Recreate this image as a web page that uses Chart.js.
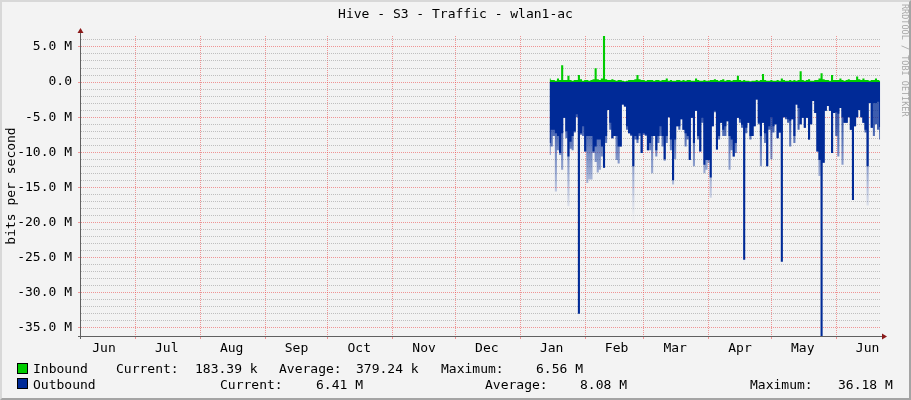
<!DOCTYPE html>
<html>
<head>
<meta charset="utf-8">
<title>Hive - S3 - Traffic - wlan1-ac</title>
<script src="https://cdn.jsdelivr.net/npm/chart.js"></script>
<style>
  html, body { margin: 0; padding: 0; background: #f3f3f3; }
  #wrap { position: relative; width: 911px; height: 400px; background: #f3f3f3; overflow: hidden;
          font-family: 'DejaVu Sans Mono', monospace; font-size: 13px; color: #000; }
  #chart { position: absolute; left: 0; top: 0; }
  .txt { position: absolute; white-space: pre; line-height: 13px; }
  .sw { position: absolute; width: 9px; height: 9px; border: 1px solid #000; }
  #frame { position: absolute; inset: 0; border-style: solid; border-width: 2px;
           border-color: #d8d8d8 #a4a4a4 #a4a4a4 #d8d8d8; pointer-events: none; }
  #credit { position: absolute; left: 909px; top: 4px; transform-origin: 0 0; transform: rotate(90deg);
            font-size: 8.5px; line-height: 9px; color: #a8a8a8; white-space: pre; }
</style>
</head>
<body>
<div id="wrap">
  <canvas id="chart" width="911" height="400"></canvas>
  <div class="txt" style="left:0;width:911px;text-align:center;top:7px">Hive - S3 - Traffic - wlan1-ac</div>
  <div id="credit">RRDTOOL / TOBI OETIKER</div>

  <div class="sw" style="left:17px;top:363px;background:#00cc00"></div>
  <div class="txt" style="left:33px;top:362px">Inbound</div>
  <div class="txt" style="left:116px;top:362px">Current:</div>
  <div class="txt" style="left:195px;top:362px">183.39 k</div>
  <div class="txt" style="left:279px;top:362px">Average:</div>
  <div class="txt" style="left:356px;top:362px">379.24 k</div>
  <div class="txt" style="left:441px;top:362px">Maximum:</div>
  <div class="txt" style="left:536px;top:362px">6.56 M</div>

  <div class="sw" style="left:17px;top:378px;background:#002a97"></div>
  <div class="txt" style="left:33px;top:378px">Outbound</div>
  <div class="txt" style="left:220px;top:378px">Current:</div>
  <div class="txt" style="left:316px;top:378px">6.41 M</div>
  <div class="txt" style="left:485px;top:378px">Average:</div>
  <div class="txt" style="left:580px;top:378px">8.08 M</div>
  <div class="txt" style="left:750px;top:378px">Maximum:</div>
  <div class="txt" style="left:838px;top:378px">36.18 M</div>
  <div id="frame"></div>
</div>
<script>
// x axis: days counted from Jul 1
const monthStarts = [0, 31, 62, 92, 123, 153, 184, 215, 243, 274, 304, 335];
const monthMids = [-15, 15, 46, 77, 107, 138, 168, 199, 230, 258, 289, 319, 350];
const monthNames = ['Jun', 'Jul', 'Aug', 'Sep', 'Oct', 'Nov', 'Dec', 'Jan', 'Feb', 'Mar', 'Apr', 'May', 'Jun'];
const firstDay = 198; // Jan 14, first day with data

// y axis, M bit/s: labelled lines and the minor 1 M grid
const yLabelled = [5, 0, -5, -10, -15, -20, -25, -30, -35];
const yMinor = Array.from({ length: 42 }, (_, i) => 6 - i);

// Inbound, M bit/s, one value per day
const inbound = [
  0.5, 0.3, 0.3, 0.2, 0.5, 0.3, 2.4, 0.3, 0.3, 0.9,
  0.3, 0.2, 0.3, 0.3, 1.0, 0.4, 0.2, 0.3, 0.3, 0.2,
  0.3, 0.4, 1.95, 0.4, 0.3, 0.5, 6.56, 0.4, 0.3, 0.3,
  0.4, 0.3, 0.2, 0.3, 0.3, 0.2, 0.1, 0.2, 0.3, 0.3,
  0.3, 0.4, 1.0, 0.4, 0.3, 0.3, 0.2, 0.3, 0.3, 0.3,
  0.2, 0.3, 0.3, 0.2, 0.3, 0.3, 0.5, 0.2, 0.3, 0.2,
  0.2, 0.3, 0.3, 0.2, 0.3, 0.2, 0.3, 0.3, 0.2, 0.2,
  0.5, 0.3, 0.2, 0.2, 0.3, 0.2, 0.2, 0.3, 0.3, 0.4,
  0.3, 0.2, 0.3, 0.4, 0.2, 0.3, 0.3, 0.2, 0.3, 0.3,
  0.9, 0.3, 0.2, 0.3, 0.2, 0.2, 0.1, 0.2, 0.2, 0.3,
  0.2, 0.3, 1.15, 0.3, 0.2, 0.2, 0.3, 0.2, 0.2, 0.3,
  0.2, 0.5, 0.3, 0.2, 0.2, 0.3, 0.2, 0.3, 0.2, 0.3,
  1.55, 0.3, 0.2, 0.3, 0.4, 0.2, 0.2, 0.3, 0.3, 0.5,
  1.25, 0.4, 0.3, 0.3, 0.2, 1.0, 0.3, 0.3, 0.3, 0.5,
  0.3, 0.2, 0.3, 0.4, 0.3, 0.3, 0.3, 0.8, 0.4, 0.3,
  0.5, 0.3, 0.3, 0.2, 0.3, 0.3, 0.5, 0.3, 0.2
];

// Outbound daily level, M bit/s (drawn below zero)
const outbound = [
  8.7, 6.8, 6.8, 7.3, 7.7, 10.1, 7.3, 5.1, 7.0, 10.6,
  8.5, 7.7, 7.0, 4.6, 33.0, 7.3, 6.3, 9.9, 7.7, 7.7,
  7.7, 9.9, 9.2, 8.2, 8.2, 9.2, 12.2, 7.7, 4.0, 5.8,
  8.0, 7.7, 7.7, 9.2, 9.2, 3.2, 3.5, 6.3, 7.3, 7.5,
  12.0, 7.7, 8.2, 7.3, 10.1, 7.3, 7.5, 9.7, 8.7, 7.7,
  7.7, 9.7, 7.7, 6.3, 7.7, 11.0, 7.7, 5.0, 8.2, 14.0,
  8.2, 6.3, 6.3, 5.3, 6.8, 7.3, 7.7, 11.1, 5.1, 8.7,
  4.1, 7.7, 9.9, 5.1, 11.8, 11.1, 11.1, 13.6, 6.3, 4.1,
  9.6, 7.7, 5.8, 6.8, 6.3, 5.6, 7.7, 8.2, 10.6, 8.7,
  5.1, 5.3, 6.1, 25.3, 6.5, 5.8, 7.7, 7.7, 6.3, 2.5,
  5.8, 7.7, 5.8, 7.3, 12.0, 6.3, 5.0, 6.3, 6.0, 8.0,
  7.2, 25.6, 5.0, 5.0, 5.3, 5.5, 5.3, 7.7, 3.2, 3.7,
  6.0, 5.1, 6.5, 5.1, 8.2, 6.0, 2.7, 4.4, 9.9, 11.1,
  36.18, 11.5, 4.1, 3.4, 4.1, 10.1, 4.4, 4.3, 4.5, 3.7,
  5.0, 5.8, 5.8, 5.0, 6.8, 16.8, 6.3, 5.0, 4.0, 5.0,
  5.8, 6.8, 12.0, 3.0, 6.5, 3.0, 3.0, 2.8, 6.4
];

// Outbound short peaks, M bit/s (faded tails)
const outboundPeak = [
  10.4, 9.2, 7.7, 15.6, 9.7, 10.4, 12.5, 5.1, 8.0, 17.7,
  9.5, 9.7, 7.2, 5.0, 33.8, 7.5, 7.7, 9.9, 14.4, 13.9,
  13.9, 10.1, 11.4, 12.9, 12.5, 10.6, 12.2, 8.7, 4.0, 6.8,
  8.0, 7.7, 11.1, 11.6, 9.2, 3.2, 3.5, 6.8, 7.3, 7.7,
  20.1, 8.2, 8.7, 7.7, 10.1, 7.5, 7.7, 9.7, 9.7, 13.0,
  7.7, 10.6, 8.7, 7.7, 9.2, 11.2, 8.7, 5.0, 9.7, 14.6,
  11.0, 6.3, 6.8, 5.3, 6.8, 9.2, 8.2, 11.1, 5.1, 12.0,
  4.1, 8.2, 9.9, 5.8, 13.0, 12.5, 11.5, 16.5, 6.3, 4.3,
  9.6, 8.2, 5.8, 7.7, 7.7, 5.6, 12.5, 9.7, 10.6, 10.1,
  5.1, 5.8, 6.5, 25.8, 7.3, 5.8, 8.2, 7.7, 6.3, 2.5,
  6.0, 12.0, 5.8, 8.7, 12.0, 6.8, 11.0, 7.2, 6.0, 8.0,
  7.2, 25.9, 5.0, 5.3, 5.8, 9.2, 5.3, 8.7, 3.2, 6.8,
  6.0, 5.1, 6.5, 5.1, 8.2, 6.0, 2.7, 4.4, 9.9, 13.4,
  36.18, 11.5, 4.1, 3.4, 4.1, 10.1, 4.4, 7.7, 10.6, 3.7,
  11.8, 5.8, 5.8, 5.0, 6.8, 16.8, 6.3, 5.0, 4.0, 5.0,
  5.8, 7.2, 17.6, 3.0, 6.5, 7.7, 6.0, 6.8, 8.2
];

const yMin = -36.18;
const yMax = 6.56;

const M = 1e6;
const toPoints = (arr, sign) => arr.map((v, i) => ({ x: firstDay + i, y: sign * v * M }));
const isLabelled = (v) => yLabelled.includes(Math.round(v / M));

const RED = 'rgba(235, 70, 70, 0.55)';
const GRAY = 'rgba(140, 140, 140, 0.5)';

// axis lines with rrdtool style arrows
const axisArrows = {
  id: 'axisArrows',
  afterDraw(chart) {
    const { ctx, chartArea: a } = chart;
    ctx.save();
    ctx.strokeStyle = '#606060';
    ctx.lineWidth = 1;
    ctx.beginPath();
    ctx.moveTo(a.left - 0.5, a.bottom + 3);
    ctx.lineTo(a.left - 0.5, a.top - 4);
    ctx.moveTo(a.left - 3, a.bottom + 0.5);
    ctx.lineTo(a.right + 3, a.bottom + 0.5);
    ctx.stroke();
    ctx.fillStyle = '#8b1a1a';
    ctx.beginPath();
    ctx.moveTo(a.left - 3.5, a.top - 3);
    ctx.lineTo(a.left + 2.5, a.top - 3);
    ctx.lineTo(a.left - 0.5, a.top - 8);
    ctx.fill();
    ctx.beginPath();
    ctx.moveTo(a.right + 1, a.bottom - 2.5);
    ctx.lineTo(a.right + 1, a.bottom + 3.5);
    ctx.lineTo(a.right + 6, a.bottom + 0.5);
    ctx.fill();
    ctx.restore();
  }
};

Chart.defaults.font.family = "'DejaVu Sans Mono', monospace";
Chart.defaults.font.size = 13;
Chart.defaults.color = '#000';

new Chart(document.getElementById('chart'), {
  type: 'line',
  data: {
    datasets: [
      {
        label: 'Inbound',
        data: toPoints(inbound, 1),
        backgroundColor: '#00cc00',
        borderColor: 'transparent',
        borderWidth: 0,
        stepped: 'middle',
        fill: 'origin',
      },
      {
        label: 'Outbound',
        data: toPoints(outbound, -1),
        backgroundColor: '#002a97',
        borderColor: 'transparent',
        borderWidth: 0,
        stepped: 'middle',
        fill: 'origin',
      },
      {
        label: 'Outbound peak',
        data: toPoints(outboundPeak, -1),
        borderColor: 'transparent',
        borderWidth: 0,
        stepped: 'middle',
        fill: 'origin',
        backgroundColor: (c) => {
          const { chart } = c;
          if (!chart.chartArea) return 'rgba(0,42,151,0.4)';
          const y = chart.scales.y;
          const g = chart.ctx.createLinearGradient(0, y.getPixelForValue(-6 * M), 0, y.getPixelForValue(-19 * M));
          g.addColorStop(0, 'rgba(0,42,151,0.75)');
          g.addColorStop(1, 'rgba(0,42,151,0.02)');
          return g;
        },
      },
    ],
  },
  options: {
    responsive: false,
    animation: false,
    devicePixelRatio: 1,
    elements: { point: { radius: 0 }, line: { tension: 0 } },
    layout: { padding: { left: 0, right: 30, top: 36, bottom: 44 } },
    plugins: { legend: { display: false }, tooltip: { enabled: false } },
    scales: {
      x: {
        type: 'linear',
        min: -26,
        max: 356.4,
        z: 1,
        afterFit: (s) => { s.height = 20; },
        afterBuildTicks: (s) => {
          s.ticks = monthStarts.concat(monthMids).sort((a, b) => a - b).map((v) => ({ value: v }));
        },
        ticks: {
          autoSkip: false,
          maxRotation: 0,
          padding: 2,
          callback: (v) => {
            const i = monthMids.indexOf(v);
            return i >= 0 ? monthNames[i] : '';
          },
        },
        grid: {
          drawTicks: true,
          tickLength: 3,
          color: (c) => (c.tick && monthStarts.includes(c.tick.value) ? RED : 'transparent'),
          tickColor: (c) => (c.tick && monthStarts.includes(c.tick.value) ? RED : 'transparent'),
        },
        border: { display: false, dash: [1, 1] },
      },
      y: {
        min: yMin * M,
        max: yMax * M,
        z: 1,
        afterFit: (s) => { s.width = 81; },
        afterBuildTicks: (s) => {
          s.ticks = yMinor.map((v) => ({ value: v * M }));
        },
        ticks: {
          autoSkip: false,
          padding: 6,
          callback: (v) => {
            if (!isLabelled(v)) return '';
            return v === 0 ? '0.0' : (v / M).toFixed(1) + ' M';
          },
        },
        grid: {
          drawTicks: true,
          tickLength: 3,
          color: (c) => (c.tick && isLabelled(c.tick.value) ? RED : GRAY),
          tickColor: (c) => (c.tick && isLabelled(c.tick.value) ? RED : 'transparent'),
        },
        border: { display: false, dash: [1, 1] },
        title: { display: true, text: 'bits per second', padding: { top: 4, bottom: 4 } },
      },
    },
  },
  plugins: [axisArrows],
});
</script>
</body>
</html>
